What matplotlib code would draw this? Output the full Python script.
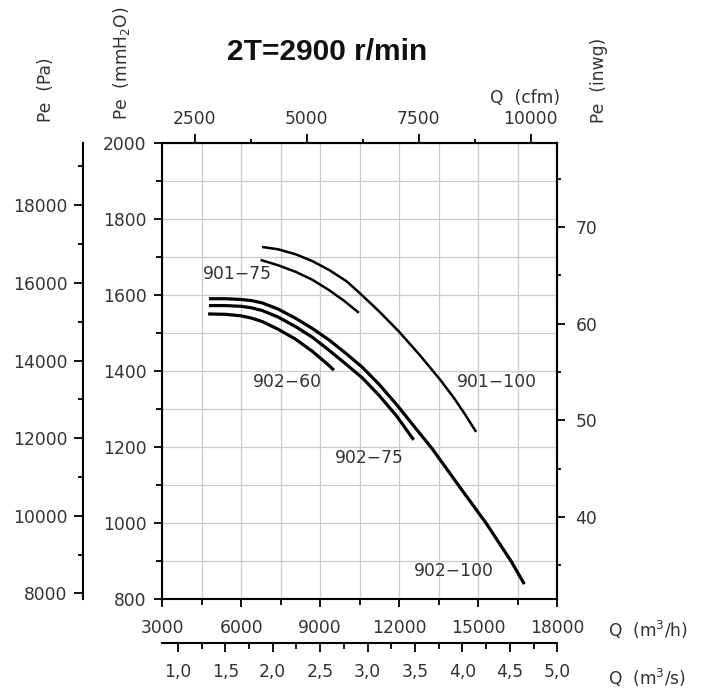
import matplotlib

matplotlib.use('Agg')
import matplotlib.pyplot as plt

# fan curves, Q in m3/h, Pe in mmH2O
q_901_100 = [6800, 7400, 8060, 8700, 9330, 10000, 10500, 11250, 12000, 12780, 13557, 14070, 14500, 14920]
pe_901_100 = [1726, 1720, 1707, 1689, 1666, 1636, 1605, 1556, 1503, 1442, 1377, 1330, 1286, 1240]

q_901_75 = [6740, 7400, 8060, 8700, 9330, 9900, 10470]
pe_901_75 = [1692, 1678, 1661, 1640, 1613, 1585, 1553]

q_902_100 = [4780, 5400, 6000, 6400, 6800, 7400, 8060, 8700, 9330, 9950, 10600,
             11250, 11900, 12550, 13250, 14300, 15300, 16250, 16750]
pe_902_100 = [1590, 1590, 1588, 1585, 1579, 1563, 1539, 1512, 1482, 1448, 1410,
              1364, 1312, 1256, 1196, 1095, 1000, 900, 840]

q_902_75 = [4780, 5400, 6000, 6400, 6800, 7400, 8060, 8700, 9330, 9950, 10600, 11250, 11900, 12550]
pe_902_75 = [1572, 1572, 1570, 1566, 1559, 1542, 1517, 1489, 1455, 1420, 1382, 1335, 1282, 1219]

q_902_60 = [4750, 5400, 6000, 6400, 6800, 7400, 8060, 8700, 9330, 9520]
pe_902_60 = [1550, 1549, 1545, 1539, 1530, 1510, 1484, 1452, 1415, 1402]

# axis ticks
q_mh_ticks = [3000, 6000, 9000, 12000, 15000, 18000]
q_cfm_ticks = [2500, 5000, 7500, 10000]
q_ms_ticks = [1.0, 1.5, 2.0, 2.5, 3.0, 3.5, 4.0, 4.5, 5.0]
q_ms_labels = ['1,0', '1,5', '2,0', '2,5', '3,0', '3,5', '4,0', '4,5', '5,0']
pe_mm_ticks = [800, 1000, 1200, 1400, 1600, 1800, 2000]
pe_pa_ticks = [8000, 10000, 12000, 14000, 16000, 18000]
pe_in_ticks = [40, 50, 60, 70]

TXT = '#333333'
FS = 12.3

fig = plt.figure(figsize=(7.15, 6.9), dpi=100)
ax = fig.add_axes([0.2266, 0.1314, 0.5528, 0.6618])
ax.set_xlim(3000, 18000)
ax.set_ylim(800, 2000)
ax.set_xticks(q_mh_ticks)
ax.set_xticks([t + 1500 for t in q_mh_ticks[:-1]], minor=True)
ax.set_yticks(pe_mm_ticks)
ax.set_yticks([t + 100 for t in pe_mm_ticks[:-1]], minor=True)
ax.grid(which='both', color='#cccccc', lw=0.9)
ax.set_axisbelow(True)
ax.tick_params(which='both', direction='out', width=1.3, labelsize=FS, labelcolor=TXT)
ax.tick_params(which='major', length=6)
ax.tick_params(which='minor', length=4)
ax.tick_params(axis='x', pad=8)
ax.tick_params(axis='y', pad=5)
for sp in ax.spines.values():
    sp.set_linewidth(1.5)

curves = [
    (q_901_100, pe_901_100, 1.8),
    (q_901_75, pe_901_75, 1.8),
    (q_902_100, pe_902_100, 2.3),
    (q_902_75, pe_902_75, 2.3),
    (q_902_60, pe_902_60, 2.3),
]
for q, pe, lw in curves:
    ax.plot(q, pe, color='black', lw=lw, solid_capstyle='butt', solid_joinstyle='round')

for txt, x, y in [('901\u221275', 5850, 1654), ('902\u221260', 7760, 1371),
                  ('901\u2212100', 15700, 1372), ('902\u221275', 10880, 1171),
                  ('902\u2212100', 14080, 874)]:
    ax.text(x, y, txt, ha='center', va='center', fontsize=12.3, color=TXT)

# top axis: cfm
top = ax.secondary_xaxis('top', functions=(lambda q: q / 1.699, lambda c: c * 1.699))
top.set_xticks(q_cfm_ticks)
top.set_xticks([t + 1250 for t in q_cfm_ticks[:-1]], minor=True)
top.tick_params(which='both', direction='out', width=1.3, labelsize=FS, labelcolor=TXT, pad=4)
top.tick_params(which='major', length=6.5)
top.tick_params(which='minor', length=3)
top.spines['top'].set_linewidth(1.5)

# bottom second axis: m3/s
ms = ax.secondary_xaxis(-0.0964, functions=(lambda q: q / 3600, lambda s: s * 3600))
ms.set_xticks(q_ms_ticks, labels=q_ms_labels)
ms.set_xticks([t + 0.25 for t in q_ms_ticks[:-1]], minor=True)
ms.tick_params(which='both', direction='out', width=1.3, labelsize=FS, labelcolor=TXT, pad=8)
ms.tick_params(which='major', length=6.5)
ms.tick_params(which='minor', length=4)
ms.spines['bottom'].set_linewidth(1.5)
ms.spines['top'].set_linewidth(1.5)

# left outer axis: Pa
pa = ax.secondary_yaxis(-0.1992, functions=(lambda m: m * 9.80665, lambda p: p / 9.80665))
pa.set_yticks(pe_pa_ticks)
pa.set_yticks([t + 1000 for t in pe_pa_ticks], minor=True)
pa.tick_params(which='both', direction='out', width=1.3, labelsize=FS, labelcolor=TXT, pad=5)
pa.tick_params(which='major', length=6.5)
pa.tick_params(which='minor', length=3.5)
pa.spines['left'].set_linewidth(1.5)

# right axis: inwg
inw = ax.secondary_yaxis('right', functions=(lambda m: m / 25.4, lambda i: i * 25.4))
inw.set_yticks(pe_in_ticks)
inw.set_yticks([t - 5 for t in pe_in_ticks] + [75], minor=True)
inw.tick_params(which='both', direction='out', width=1.3, labelsize=FS, labelcolor=TXT, pad=7)
inw.tick_params(which='major', length=6)
inw.tick_params(which='minor', length=3)
inw.spines['right'].set_linewidth(1.5)

# axis titles
fig.text(0.0643, 0.8232, 'Pe  (Pa)', rotation=90, ha='center', va='bottom', fontsize=FS, color=TXT)
fig.text(0.1706, 0.826, 'Pe  (mmH$_2$O)', rotation=90, ha='center', va='bottom', fontsize=FS, color=TXT)
fig.text(0.8378, 0.8217, 'Pe  (inwg)', rotation=90, ha='center', va='bottom', fontsize=FS, color=TXT)
fig.text(0.783, 0.858, 'Q  (cfm)', ha='right', va='center', fontsize=FS, color=TXT)
fig.text(0.850, 0.087, 'Q  (m$^3$/h)', ha='left', va='center', fontsize=FS, color=TXT)
fig.text(0.850, 0.0174, 'Q  (m$^3$/s)', ha='left', va='center', fontsize=FS, color=TXT)
fig.text(0.457, 0.925, '2T=2900 r/min', ha='center', va='center', fontsize=21.5,
         fontweight='bold', family='Liberation Sans', color='#111111')

fig.savefig('out.png', dpi=100)
plt.close(fig)
